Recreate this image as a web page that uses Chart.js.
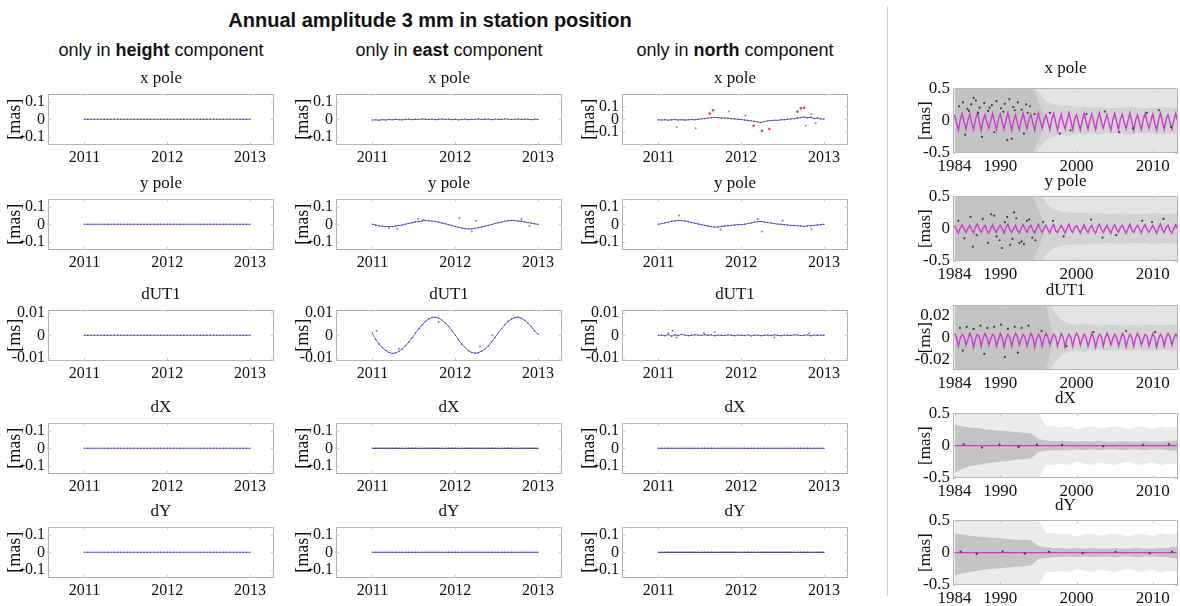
<!DOCTYPE html>
<html>
<head>
<meta charset="utf-8">
<script src="https://cdn.jsdelivr.net/npm/chart.js@4.4.1/dist/chart.umd.min.js"></script>
<style>
body{margin:0;background:#fff;width:1180px;height:606px;position:relative;overflow:hidden;font-family:"Liberation Sans",Arial,sans-serif;color:#111}
.panel{position:absolute}
.ptitle{position:absolute;font-family:"Liberation Serif","Times New Roman",serif;line-height:1;white-space:nowrap;transform:translateX(-50%);color:#111}
#main{position:absolute;left:430px;top:10px;transform:translateX(-50%);font-weight:bold;font-size:20px;line-height:1;white-space:nowrap}
.sub{position:absolute;top:41px;font-size:18px;line-height:1;white-space:nowrap;transform:translateX(-50%)}
#sep{position:absolute;left:887px;top:6px;width:1px;height:590px;background:#cfcfcf}
</style>
</head>
<body>
<div id="main">Annual amplitude 3 mm in station position</div>
<div class="sub" style="left:161px">only in <b>height</b> component</div>
<div class="sub" style="left:449px">only in <b>east</b> component</div>
<div class="sub" style="left:735px">only in <b>north</b> component</div>
<div id="sep"></div>
<script>
// ======================================
// Daten: 2011-2013 (links)
// ======================================

const epochs2011 = [
2011.00,2011.04,2011.08,2011.12,2011.16,2011.20,2011.24,2011.28,2011.32,2011.36,2011.40,2011.44,2011.48,2011.52,2011.56,2011.60,2011.64,2011.68,2011.72,2011.76,2011.80,2011.84,2011.88,2011.92,2011.96,
2012.00,2012.04,2012.08,2012.12,2012.16,2012.20,2012.24,2012.28,2012.32,2012.36,2012.40,2012.44,2012.48,2012.52,2012.56,2012.60,2012.64,2012.68,2012.72,2012.76,2012.80,2012.84,2012.88,2012.92,2012.96,
2013.00
];

const zeroSeries = [
0,0,0,0,0,0,0,0,0,0,0,0,0,0,0,0,0,0,0,0,0,0,0,0,0,
0,0,0,0,0,0,0,0,0,0,0,0,0,0,0,0,0,0,0,0,0,0,0,0,0,
0
];

const eastXpole = [
-0.004,-0.003,-0.005,-0.002,-0.004,-0.001,-0.003,0.000,-0.002,-0.003,-0.001,0.001,-0.002,0.000,-0.001,0.002,0.000,-0.001,0.001,-0.002,0.000,0.002,-0.001,0.001,-0.002,
0.000,-0.003,-0.001,0.001,-0.002,0.000,-0.001,0.002,-0.001,0.000,0.001,-0.002,0.001,0.000,-0.001,0.002,0.001,-0.001,0.000,0.002,-0.001,0.001,0.000,-0.002,0.001,
-0.001
];

const eastYpole = [
0.000,-0.004,-0.009,-0.011,-0.013,-0.012,-0.013,-0.010,-0.007,-0.004,0.001,0.005,0.009,0.013,0.016,0.019,0.021,0.020,0.018,0.016,0.012,0.007,0.003,-0.002,-0.007,
-0.012,-0.017,-0.021,-0.024,-0.026,-0.025,-0.023,-0.019,-0.015,-0.011,-0.006,-0.001,0.004,0.009,0.013,0.017,0.020,0.022,0.021,0.019,0.017,0.014,0.010,0.006,0.003,
0.000
];

const eastDUT1 = [
0.0010,-0.0019,-0.0039,-0.0056,-0.0068,-0.0077,-0.0081,-0.0079,-0.0072,-0.0061,-0.0047,-0.0030,-0.0011,0.0010,0.0028,0.0046,0.0062,0.0073,0.0080,0.0081,0.0077,0.0068,0.0055,0.0040,0.0021,
0.0001,-0.0020,-0.0040,-0.0055,-0.0069,-0.0077,-0.0080,-0.0078,-0.0071,-0.0062,-0.0048,-0.0029,-0.0010,0.0011,0.0030,0.0047,0.0063,0.0073,0.0079,0.0081,0.0076,0.0067,0.0054,0.0038,0.0020,
0.0005
];

const northXpole = [
-0.004,-0.006,-0.003,-0.007,-0.004,-0.002,-0.005,-0.003,-0.006,-0.004,-0.002,-0.004,0.000,0.003,0.006,0.009,0.012,0.015,0.013,0.010,0.011,0.008,0.005,0.003,0.000,
-0.002,-0.005,-0.009,-0.012,-0.016,-0.020,-0.025,-0.018,-0.012,-0.010,-0.007,-0.008,-0.004,-0.003,0.000,0.003,0.005,0.010,0.014,0.018,0.012,0.016,0.006,0.010,0.003,
0.002
];

const northYpole = [
0.000,0.004,0.008,0.012,0.017,0.020,0.022,0.021,0.019,0.015,0.010,0.006,0.002,-0.002,-0.006,-0.010,-0.013,-0.016,-0.015,-0.012,-0.010,-0.008,-0.006,-0.004,-0.002,
-0.002,0.000,0.004,0.008,0.012,0.015,0.016,0.013,0.010,0.007,0.004,0.001,0.000,-0.002,-0.004,-0.006,-0.007,-0.008,-0.010,-0.012,-0.009,-0.008,-0.006,-0.004,-0.002,
0.000
];

const northDUT1 = [
0.0000,0.0001,-0.0002,0.0003,-0.0004,0.0002,-0.0001,0.0004,0.0001,-0.0002,0.0000,0.0002,0.0001,-0.0001,0.0003,0.0000,0.0002,-0.0002,0.0001,0.0000,-0.0001,0.0002,0.0000,-0.0002,0.0001,
0.0000,-0.0001,0.0002,-0.0003,0.0000,0.0001,-0.0002,0.0000,0.0001,-0.0001,0.0002,0.0000,-0.0002,0.0001,0.0000,-0.0001,0.0002,0.0001,-0.0001,0.0000,0.0002,-0.0002,0.0001,0.0000,0.0001,
0.0000
];

// Ausreisser (einzelne Punkte)
const eastYpoleOutT = [2011.20,2011.30,2011.55,2011.62,2012.05,2012.20,2012.25,2012.80,2012.90];
const eastYpoleOutV = [-0.020,-0.025,0.030,0.025,0.035,-0.040,0.020,0.030,-0.010];
const eastDUT1OutT = [2011.05,2011.32,2011.80,2012.30,2012.45];
const eastDUT1OutV = [0.002,-0.006,0.006,-0.005,0.000];
const northXpoleRedT = [2011.62,2011.66,2012.15,2012.25,2012.34,2012.68,2012.72,2012.76];
const northXpoleRedV = [0.045,0.070,-0.050,-0.090,-0.075,0.060,0.085,0.090];
const northXpoleGrayT = [2011.22,2011.45,2011.85,2012.05,2012.78,2012.85,2012.90];
const northXpoleGrayV = [-0.060,-0.070,0.060,0.030,-0.050,0.040,-0.030];
const northYpoleOutT = [2011.25,2011.75,2012.20,2012.25,2012.50,2012.85];
const northYpoleOutV = [0.050,-0.030,0.030,-0.040,0.020,-0.030];
const northDUT1OutT = [2011.12,2011.17,2011.22,2011.55,2011.68,2012.40,2012.82];
const northDUT1OutV = [0.0010,0.0020,-0.0010,0.0010,0.0015,-0.0010,0.0008];

// ======================================
// Daten: 1984-2013 (rechts)
// ======================================

const epochsLong = [
1984.00,1984.25,1984.50,1984.75,1985.00,1985.25,1985.50,1985.75,1986.00,1986.25,1986.50,1986.75,1987.00,1987.25,1987.50,1987.75,1988.00,1988.25,1988.50,1988.75,
1989.00,1989.25,1989.50,1989.75,1990.00,1990.25,1990.50,1990.75,1991.00,1991.25,1991.50,1991.75,1992.00,1992.25,1992.50,1992.75,1993.00,1993.25,1993.50,1993.75,
1994.00,1994.25,1994.50,1994.75,1995.00,1995.25,1995.50,1995.75,1996.00,1996.25,1996.50,1996.75,1997.00,1997.25,1997.50,1997.75,1998.00,1998.25,1998.50,1998.75,
1999.00,1999.25,1999.50,1999.75,2000.00,2000.25,2000.50,2000.75,2001.00,2001.25,2001.50,2001.75,2002.00,2002.25,2002.50,2002.75,2003.00,2003.25,2003.50,2003.75,
2004.00,2004.25,2004.50,2004.75,2005.00,2005.25,2005.50,2005.75,2006.00,2006.25,2006.50,2006.75,2007.00,2007.25,2007.50,2007.75,2008.00,2008.25,2008.50,2008.75,
2009.00,2009.25,2009.50,2009.75,2010.00,2010.25,2010.50,2010.75,2011.00,2011.25,2011.50,2011.75,2012.00,2012.25,2012.50,2012.75,
2013.00,2013.25,2013.50
];

const xpoleFit = [
0.09,-0.03,-0.15,0.01, 0.11,-0.02,-0.13,0.00, 0.10,-0.04,-0.14,0.02, 0.12,-0.01,-0.15,0.01, 0.09,-0.03,-0.12,0.00,
0.11,-0.02,-0.14,0.02, 0.10,-0.03,-0.13,0.01, 0.12,-0.02,-0.15,0.00, 0.09,-0.04,-0.14,0.01, 0.11,-0.01,-0.13,0.02,
0.10,-0.03,-0.15,0.00, 0.12,-0.02,-0.12,0.01, 0.09,-0.03,-0.14,0.02, 0.11,-0.02,-0.15,0.00, 0.10,-0.04,-0.13,0.01,
0.12,-0.01,-0.14,0.02, 0.09,-0.03,-0.15,0.00, 0.11,-0.02,-0.13,0.01, 0.10,-0.03,-0.14,0.02, 0.12,-0.02,-0.12,0.00,
0.09,-0.04,-0.15,0.01, 0.11,-0.01,-0.14,0.02, 0.10,-0.03,-0.13,0.00, 0.12,-0.02,-0.15,0.01, 0.09,-0.03,-0.14,0.02,
0.11,-0.02,-0.12,0.00, 0.10,-0.04,-0.15,0.01, 0.12,-0.01,-0.14,0.02, 0.09,-0.03,-0.13,0.00,
0.11,-0.02,-0.14
];

const ypoleFit = [
0.05,-0.02,-0.07,0.01, 0.06,-0.01,-0.06,0.00, 0.05,-0.02,-0.07,0.02, 0.07,-0.01,-0.06,0.01, 0.05,-0.03,-0.07,0.00,
0.06,-0.02,-0.06,0.01, 0.05,-0.01,-0.07,0.02, 0.07,-0.02,-0.06,0.00, 0.05,-0.03,-0.07,0.01, 0.06,-0.01,-0.06,0.02,
0.05,-0.02,-0.07,0.00, 0.07,-0.01,-0.06,0.01, 0.05,-0.02,-0.07,0.02, 0.06,-0.03,-0.06,0.00, 0.05,-0.01,-0.07,0.01,
0.07,-0.02,-0.06,0.02, 0.05,-0.01,-0.07,0.00, 0.06,-0.02,-0.06,0.01, 0.05,-0.03,-0.07,0.02, 0.07,-0.01,-0.06,0.00,
0.05,-0.02,-0.07,0.01, 0.06,-0.01,-0.06,0.02, 0.05,-0.02,-0.07,0.00, 0.07,-0.03,-0.06,0.01, 0.05,-0.01,-0.07,0.02,
0.06,-0.02,-0.06,0.00, 0.05,-0.01,-0.07,0.01, 0.07,-0.02,-0.06,0.02, 0.05,-0.03,-0.07,0.00,
0.06,-0.01,-0.06
];

const dut1Fit = [
0.004,0.000,-0.008,-0.001, 0.003,0.001,-0.007,-0.002, 0.004,0.000,-0.009,-0.001, 0.003,0.001,-0.008,0.000, 0.004,0.000,-0.007,-0.001,
0.003,0.001,-0.008,-0.002, 0.004,0.000,-0.009,-0.001, 0.003,0.000,-0.008,0.000, 0.004,0.001,-0.007,-0.001, 0.003,0.000,-0.008,-0.002,
0.004,0.001,-0.009,-0.001, 0.003,0.000,-0.008,0.000, 0.004,0.000,-0.007,-0.001, 0.003,0.001,-0.008,-0.002, 0.004,0.000,-0.009,-0.001,
0.003,0.000,-0.008,0.000, 0.004,0.001,-0.007,-0.001, 0.003,0.000,-0.008,-0.002, 0.004,0.000,-0.009,-0.001, 0.003,0.001,-0.008,0.000,
0.004,0.000,-0.007,-0.001, 0.003,0.000,-0.008,-0.002, 0.004,0.001,-0.009,-0.001, 0.003,0.000,-0.008,0.000, 0.004,0.000,-0.007,-0.001,
0.003,0.001,-0.008,-0.002, 0.004,0.000,-0.009,-0.001, 0.003,0.000,-0.008,0.000, 0.004,0.001,-0.007,-0.001,
0.003,0.000,-0.008
];

const nutationFit = [
0,0,0,0, 0,0,0,0, 0,0,0,0, 0,0,0,0, 0,0,0,0,
0,0,0,0, 0,0,0,0, 0,0,0,0, 0,0,0,0, 0,0,0,0,
0,0,0,0, 0,0,0,0, 0,0,0,0, 0,0,0,0, 0,0,0,0,
0,0,0,0, 0,0,0,0, 0,0,0,0, 0,0,0,0, 0,0,0,0,
0,0,0,0, 0,0,0,0, 0,0,0,0, 0,0,0,0, 0,0,0,0,
0,0,0,0, 0,0,0,0, 0,0,0,0, 0,0,0,0,
0,0,0
];

// Fehlerbalken-Huellen (jaehrlich)
const bandYears = [1984,1985,1986,1987,1988,1989,1990,1991,1992,1993,1994,1995,1996,1997,1998,1999,2000,2001,2002,2003,2004,2005,2006,2007,2008,2009,2010,2011,2012,2013.3];

const poleLightHi = [0.6,0.6,0.6,0.6,0.6,0.6,0.6,0.6,0.6,0.6,0.6,0.6,0.6,0.6,0.6,0.6,0.6,0.6,0.6,0.6,0.6,0.6,0.6,0.6,0.6,0.6,0.6,0.6,0.6,0.6];
const poleLightLo = [-0.6,-0.6,-0.6,-0.6,-0.6,-0.6,-0.6,-0.6,-0.6,-0.6,-0.6,-0.6,-0.6,-0.6,-0.6,-0.6,-0.6,-0.6,-0.6,-0.6,-0.6,-0.6,-0.6,-0.6,-0.6,-0.6,-0.6,-0.6,-0.6,-0.6];
const xpoleMidHi = [0.6,0.6,0.6,0.6,0.6,0.6,0.6,0.6,0.6,0.6,0.6,0.45,0.3,0.25,0.22,0.24,0.2,0.22,0.2,0.21,0.2,0.19,0.2,0.22,0.2,0.19,0.2,0.21,0.2,0.2];
const xpoleMidLo = [-0.6,-0.6,-0.6,-0.6,-0.6,-0.6,-0.6,-0.6,-0.6,-0.6,-0.6,-0.45,-0.3,-0.25,-0.22,-0.24,-0.2,-0.22,-0.2,-0.21,-0.2,-0.19,-0.2,-0.22,-0.2,-0.19,-0.2,-0.21,-0.2,-0.2];
const ypoleMidHi = [0.6,0.6,0.6,0.6,0.6,0.6,0.6,0.6,0.6,0.6,0.6,0.6,0.4,0.3,0.26,0.25,0.24,0.25,0.23,0.24,0.22,0.23,0.24,0.22,0.23,0.22,0.24,0.23,0.22,0.24];
const ypoleMidLo = [-0.6,-0.6,-0.6,-0.6,-0.6,-0.6,-0.6,-0.6,-0.6,-0.6,-0.6,-0.6,-0.4,-0.3,-0.26,-0.25,-0.24,-0.25,-0.23,-0.24,-0.22,-0.23,-0.24,-0.22,-0.23,-0.22,-0.24,-0.23,-0.22,-0.24];
// dichte Phase bis Mitte der 90er
const poleDarkHi = [0.6,0.6,0.6,0.6,0.6,0.6,0.6,0.6,0.6,0.6,0.6,0.3,0,0,0,0,0,0,0,0,0,0,0,0,0,0,0,0,0,0];
const poleDarkLo = [-0.6,-0.6,-0.6,-0.6,-0.6,-0.6,-0.6,-0.6,-0.6,-0.6,-0.6,-0.3,0,0,0,0,0,0,0,0,0,0,0,0,0,0,0,0,0,0];

const dut1LightHi = [0.04,0.04,0.04,0.04,0.04,0.04,0.04,0.04,0.04,0.04,0.04,0.04,0.04,0.04,0.04,0.04,0.04,0.04,0.04,0.04,0.04,0.04,0.04,0.04,0.04,0.04,0.04,0.04,0.04,0.04];
const dut1LightLo = [-0.04,-0.04,-0.04,-0.04,-0.04,-0.04,-0.04,-0.04,-0.04,-0.04,-0.04,-0.04,-0.04,-0.04,-0.04,-0.04,-0.04,-0.04,-0.04,-0.04,-0.04,-0.04,-0.04,-0.04,-0.04,-0.04,-0.04,-0.04,-0.04,-0.04];
const dut1MidHi = [0.04,0.04,0.04,0.04,0.04,0.04,0.04,0.04,0.04,0.04,0.04,0.04,0.04,0.025,0.016,0.013,0.012,0.013,0.012,0.011,0.012,0.012,0.011,0.012,0.011,0.012,0.012,0.011,0.012,0.012];
const dut1MidLo = [-0.04,-0.04,-0.04,-0.04,-0.04,-0.04,-0.04,-0.04,-0.04,-0.04,-0.04,-0.04,-0.04,-0.025,-0.016,-0.013,-0.012,-0.013,-0.012,-0.011,-0.012,-0.012,-0.011,-0.012,-0.011,-0.012,-0.012,-0.011,-0.012,-0.012];
const dut1DarkHi = [0.04,0.04,0.04,0.04,0.04,0.04,0.04,0.04,0.04,0.04,0.04,0.04,0.03,0,0,0,0,0,0,0,0,0,0,0,0,0,0,0,0,0];
const dut1DarkLo = [-0.04,-0.04,-0.04,-0.04,-0.04,-0.04,-0.04,-0.04,-0.04,-0.04,-0.04,-0.04,-0.03,0,0,0,0,0,0,0,0,0,0,0,0,0,0,0,0,0];

const dxLightHi = [0.5,0.5,0.5,0.5,0.5,0.5,0.5,0.5,0.5,0.5,0.5,0.5,0.3,0.3,0.28,0.3,0.25,0.28,0.3,0.26,0.28,0.3,0.27,0.25,0.3,0.28,0.26,0.3,0.28,0.3];
const dxLightLo = [-0.5,-0.5,-0.5,-0.5,-0.5,-0.5,-0.5,-0.5,-0.5,-0.5,-0.5,-0.5,-0.3,-0.3,-0.28,-0.3,-0.25,-0.28,-0.3,-0.26,-0.28,-0.3,-0.27,-0.25,-0.3,-0.28,-0.26,-0.3,-0.28,-0.3];
const dxMidHi = [0.33,0.3,0.28,0.27,0.25,0.24,0.23,0.22,0.21,0.2,0.19,0.1,0.08,0.07,0.07,0.07,0.06,0.07,0.06,0.07,0.06,0.06,0.07,0.06,0.06,0.07,0.06,0.06,0.07,0.08];
const dxMidLo = [-0.42,-0.36,-0.32,-0.3,-0.28,-0.26,-0.25,-0.24,-0.22,-0.21,-0.2,-0.1,-0.08,-0.07,-0.07,-0.07,-0.06,-0.07,-0.06,-0.07,-0.06,-0.06,-0.07,-0.06,-0.06,-0.07,-0.06,-0.06,-0.07,-0.08];
const dyMidHi = [0.3,0.28,0.26,0.25,0.24,0.23,0.22,0.21,0.2,0.2,0.19,0.1,0.08,0.07,0.07,0.06,0.07,0.06,0.07,0.06,0.06,0.07,0.06,0.06,0.07,0.06,0.06,0.07,0.07,0.1];
const dyMidLo = [-0.36,-0.32,-0.3,-0.28,-0.26,-0.25,-0.24,-0.23,-0.22,-0.21,-0.2,-0.1,-0.08,-0.07,-0.07,-0.06,-0.07,-0.06,-0.07,-0.06,-0.06,-0.07,-0.06,-0.06,-0.07,-0.06,-0.06,-0.07,-0.07,-0.1];

// schwarze Einzelpunkte
const xpoleDotT = [1984.6,1985.1,1985.7,1986.2,1986.8,1987.3,1987.9,1988.4,1988.9,1989.5,1990.1,1990.6,1991.2,1991.7,1992.3,1992.8,1993.4,1993.9,1985.4,1987.6,1989.2,1991.5,1993.1,1996.5,1999.2,2003.7,2007.4,2010.8,1986.5,1990.9,
                   1985.9,1987.1,1988.6,1990.4,1991.9,1993.6,1994.5,1997.8,2001.3,2005.6,2009.2,2012.4];
const xpoleDotV = [0.22,0.28,0.18,0.25,0.31,0.20,0.27,0.15,0.24,0.30,0.19,0.26,0.33,0.21,0.28,0.17,0.25,0.22,-0.22,-0.25,-0.18,-0.28,-0.20,0.12,-0.15,0.14,-0.12,0.16,0.35,-0.30,
                   0.15,0.12,0.2,0.14,0.16,0.12,0.1,-0.2,0.1,-0.18,0.12,-0.1];
const ypoleDotT = [1984.5,1985.3,1986.1,1986.9,1987.7,1988.4,1989.2,1989.9,1990.6,1991.3,1992.1,1992.8,1993.5,1994.2,1986.4,1988.8,1990.2,1991.8,1993.1,1995.6,1998.3,2001.9,2005.2,2008.6,2011.4,
                   1989.5,1990.9,1991.6,1992.5,1993.8,1994.6,1996.9,2003.4,2009.9];
const ypoleDotV = [0.12,-0.15,0.18,-0.10,0.15,-0.22,0.20,-0.18,0.10,-0.25,0.16,-0.20,0.12,-0.14,-0.28,0.22,-0.30,0.25,-0.24,0.10,-0.12,0.14,-0.10,0.12,0.15,
                   -0.12,0.18,-0.16,-0.22,0.14,-0.18,0.12,-0.14,0.1];
const dut1DotT = [1984.7,1985.6,1986.5,1987.4,1988.3,1989.2,1990.1,1991.0,1991.9,1992.8,1993.7,1985.1,1987.9,1990.6,1992.3,1995.4,1998.7,2002.2,2006.5,2010.3];
const dut1DotV = [0.009,0.010,0.008,0.011,0.009,0.010,0.012,0.008,0.010,0.009,0.011,-0.012,-0.015,-0.018,-0.014,0.006,-0.008,0.005,0.006,0.005];
const dxDotT = [1985.2,1987.6,1989.9,1992.4,1994.8,1998.1,2003.5,2008.7,2012.1];
const dxDotV = [0.02,-0.03,0.015,-0.02,0.01,0.01,-0.01,0.01,0.02];
const dyDotT = [1984.8,1986.9,1990.3,1993.2,1996.4,2000.8,2005.1,2009.6,2012.5];
const dyDotV = [0.015,-0.02,0.02,-0.015,0.01,-0.01,0.01,-0.01,0.015];

// Achsen
const ticksShort = [2011, 2012, 2013];
const ticksLong = [1984, 1990, 2000, 2010];
const ticksMas = [-0.1, 0, 0.1];
const ticksMs = [-0.01, 0, 0.01];
const ticksMasLong = [-0.5, 0, 0.5];
const ticksMsLong = [-0.02, 0, 0.02];

// ======================================
// Zeichnen
// ======================================

const SERIF = '"Liberation Serif", "Times New Roman", serif';

function pts(xs, ys) {
    return ys.map((y, i) => ({x: xs[i], y: y}));
}

function mainLine(ys, color) {
    return {
        data: pts(epochs2011, ys),
        borderColor: color || "#6a6ad2",
        backgroundColor: "#3a3aa8",
        borderWidth: 1,
        pointRadius: 0.7,
        pointBorderWidth: 0,
        pointBackgroundColor: "#3a3aa8",
        order: 2
    };
}

function dots(xs, ys, color, r) {
    return {
        data: pts(xs, ys),
        showLine: false,
        borderColor: color,
        backgroundColor: color,
        pointRadius: r || 1,
        pointBorderWidth: 0,
        pointBackgroundColor: color,
        order: 1
    };
}

function band(hi, lo, color, order) {
    return [{
        data: pts(bandYears, hi),
        fill: "+1",
        borderWidth: 0,
        borderColor: color,
        backgroundColor: color,
        pointRadius: 0,
        order: order
    }, {
        data: pts(bandYears, lo),
        fill: false,
        borderWidth: 0,
        borderColor: color,
        backgroundColor: color,
        pointRadius: 0,
        order: order
    }];
}

function fitLine(ys) {
    return {
        data: pts(epochsLong, ys),
        borderColor: "#cc3dcc",
        backgroundColor: "#cc3dcc",
        borderWidth: 1.4,
        pointRadius: 0,
        order: 1
    };
}

// Rahmen mit Ticks nach innen (matlab-artig)
const boxPlugin = {
    id: "box",
    afterDraw(chart) {
        const {ctx, chartArea: a, scales} = chart;
        ctx.save();
        ctx.strokeStyle = "#b4b4b4";
        ctx.lineWidth = 1;
        ctx.strokeRect(Math.round(a.left) + .5, Math.round(a.top) + .5, Math.round(a.right - a.left) - 1, Math.round(a.bottom - a.top) - 1);
        ctx.strokeStyle = "#c8c8c8";
        ctx.beginPath();
        scales.x.ticks.forEach(t => {
            const px = Math.round(scales.x.getPixelForValue(t.value)) + .5;
            ctx.moveTo(px, a.bottom); ctx.lineTo(px, a.bottom - 3);
            ctx.moveTo(px, a.top); ctx.lineTo(px, a.top + 3);
        });
        scales.y.ticks.forEach(t => {
            const py = Math.round(scales.y.getPixelForValue(t.value)) + .5;
            ctx.moveTo(a.left, py); ctx.lineTo(a.left + 3, py);
            ctx.moveTo(a.right, py); ctx.lineTo(a.right - 3, py);
        });
        ctx.stroke();
        ctx.restore();
    }
};

function addPanel(p) {

    const padT = 6, padR = 6;
    const W = p.w + p.padL + padR;
    const H = p.h + padT + p.padB;

    const wrap = document.createElement("div");
    wrap.className = "panel";
    wrap.style.left = (p.x - p.padL) + "px";
    wrap.style.top = (p.y - padT) + "px";
    wrap.style.width = W + "px";
    wrap.style.height = H + "px";
    const cv = document.createElement("canvas");
    cv.width = W;
    cv.height = H;
    wrap.appendChild(cv);
    document.body.appendChild(wrap);

    const t = document.createElement("div");
    t.className = "ptitle";
    t.textContent = p.title;
    t.style.left = (p.x + p.w / 2) + "px";
    t.style.top = (p.y - p.titleGap) + "px";
    t.style.fontSize = p.titleSize + "px";
    document.body.appendChild(t);

    new Chart(cv, {
        type: "line",
        data: {datasets: p.datasets},
        options: {
            responsive: false,
            animation: false,
            devicePixelRatio: 1,
            layout: {padding: {top: padT, right: padR, left: 0, bottom: 0}},
            plugins: {legend: {display: false}, tooltip: {enabled: false}},
            scales: {
                x: {
                    type: "linear",
                    min: p.xMin,
                    max: p.xMax,
                    grid: {display: false, drawTicks: false},
                    border: {display: false},
                    afterFit: s => { s.height = p.padB; },
                    afterBuildTicks: s => { s.ticks = p.xTicks.map(v => ({value: v})); },
                    ticks: {
                        color: "#111",
                        font: {family: SERIF, size: p.tickSize},
                        padding: 3,
                        maxRotation: 0,
                        autoSkip: false,
                        callback: v => String(v)
                    }
                },
                y: {
                    type: "linear",
                    min: p.yMin,
                    max: p.yMax,
                    grid: {display: false, drawTicks: false},
                    border: {display: false},
                    afterFit: s => { s.width = p.padL; },
                    afterBuildTicks: s => { s.ticks = p.yTicks.map(v => ({value: v})); },
                    ticks: {
                        color: "#111",
                        font: {family: SERIF, size: p.tickSize},
                        padding: 3,
                        autoSkip: false,
                        callback: v => String(v)
                    },
                    title: {
                        display: true,
                        text: p.unit,
                        color: "#111",
                        font: {family: SERIF, size: p.unitSize},
                        padding: {top: p.unitPad, bottom: 0}
                    }
                }
            }
        },
        plugins: [boxPlugin]
    });
}

// linke Spalten
const colX = [48, 336, 622];
const rowY = [87, 192, 303, 416, 520];
const names = ["x pole", "y pole", "dUT1", "dX", "dY"];

const leftData = [
    // height
    [[mainLine(zeroSeries, "#7c7cdc")], [mainLine(zeroSeries, "#7c7cdc")], [mainLine(zeroSeries, "#7c7cdc")], [mainLine(zeroSeries, "#7c7cdc")], [mainLine(zeroSeries, "#7c7cdc")]],
    // east
    [[mainLine(eastXpole)],
     [mainLine(eastYpole), dots(eastYpoleOutT, eastYpoleOutV, "#8080b0")],
     [mainLine(eastDUT1), dots(eastDUT1OutT, eastDUT1OutV, "#8080b0")],
     [mainLine(zeroSeries, "#303050")],
     [mainLine(zeroSeries, "#5a5ab0")]],
    // north
    [[mainLine(northXpole), dots(northXpoleRedT, northXpoleRedV, "#e04040", 1.3), dots(northXpoleGrayT, northXpoleGrayV, "#8a8aa8")],
     [mainLine(northYpole), dots(northYpoleOutT, northYpoleOutV, "#8080b0")],
     [mainLine(northDUT1), dots(northDUT1OutT, northDUT1OutV, "#8080b0")],
     [mainLine(zeroSeries, "#5a5ab8")],
     [mainLine(zeroSeries, "#303040")]]
];

for (let c = 0; c < 3; c++) {
    for (let r = 0; r < 5; r++) {
        const isMs = r === 2;
        // north / x pole hat groessere Skala
        const yLim = isMs ? 0.0115 : (c === 2 && r === 0 ? 0.2 : 0.145);
        addPanel({
            x: colX[c], y: rowY[r], w: 226, h: 58,
            padL: 48, padB: 24,
            title: names[r], titleGap: 18, titleSize: 17,
            unit: isMs ? "[ms]" : "[mas]", unitSize: 18, unitPad: 4,
            tickSize: 16,
            xMin: 2010.56, xMax: 2013.29, xTicks: ticksShort,
            yMin: -yLim, yMax: yLim,
            yTicks: isMs ? ticksMs : ticksMas,
            datasets: leftData[c][r]
        });
    }
}

// rechte Spalte
const rightY = [81, 189, 298, 406, 513];
const lightGray = "#e4e4e4";
const midGray = "#d3d3d3";
const darkGray = "#c4c4c4";

const rightData = [
    [...band(poleLightHi, poleLightLo, lightGray, 7), ...band(xpoleMidHi, xpoleMidLo, midGray, 6), ...band(poleDarkHi, poleDarkLo, darkGray, 5), dots(xpoleDotT, xpoleDotV, "#3a3a3a", 1.1), fitLine(xpoleFit)],
    [...band(poleLightHi, poleLightLo, lightGray, 7), ...band(ypoleMidHi, ypoleMidLo, midGray, 6), ...band(poleDarkHi, poleDarkLo, darkGray, 5), dots(ypoleDotT, ypoleDotV, "#3a3a3a", 1.1), fitLine(ypoleFit)],
    [...band(dut1LightHi, dut1LightLo, lightGray, 7), ...band(dut1MidHi, dut1MidLo, midGray, 6), ...band(dut1DarkHi, dut1DarkLo, darkGray, 5), dots(dut1DotT, dut1DotV, "#3a3a3a", 1.1), fitLine(dut1Fit)],
    [...band(dxLightHi, dxLightLo, "#ebebeb", 6), ...band(dxMidHi, dxMidLo, darkGray, 5), dots(dxDotT, dxDotV, "#3a3a3a", 1.1), fitLine(nutationFit)],
    [...band(dxLightHi, dxLightLo, "#ebebeb", 6), ...band(dyMidHi, dyMidLo, darkGray, 5), dots(dyDotT, dyDotV, "#3a3a3a", 1.1), fitLine(nutationFit)]
];

for (let r = 0; r < 5; r++) {
    const isMs = r === 2;
    addPanel({
        x: 953, y: rightY[r], w: 225, h: 72,
        padL: 45, padB: 24,
        title: names[r], titleGap: r === 0 ? 22 : 17, titleSize: 17,
        unit: isMs ? "[ms]" : "[mas]", unitSize: 17, unitPad: 7,
        tickSize: 17,
        xMin: 1983.8, xMax: 2013.3, xTicks: ticksLong,
        yMin: isMs ? -0.03 : -0.5, yMax: isMs ? 0.03 : 0.5,
        yTicks: isMs ? ticksMsLong : ticksMasLong,
        datasets: rightData[r]
    });
}
</script>
</body>
</html>
